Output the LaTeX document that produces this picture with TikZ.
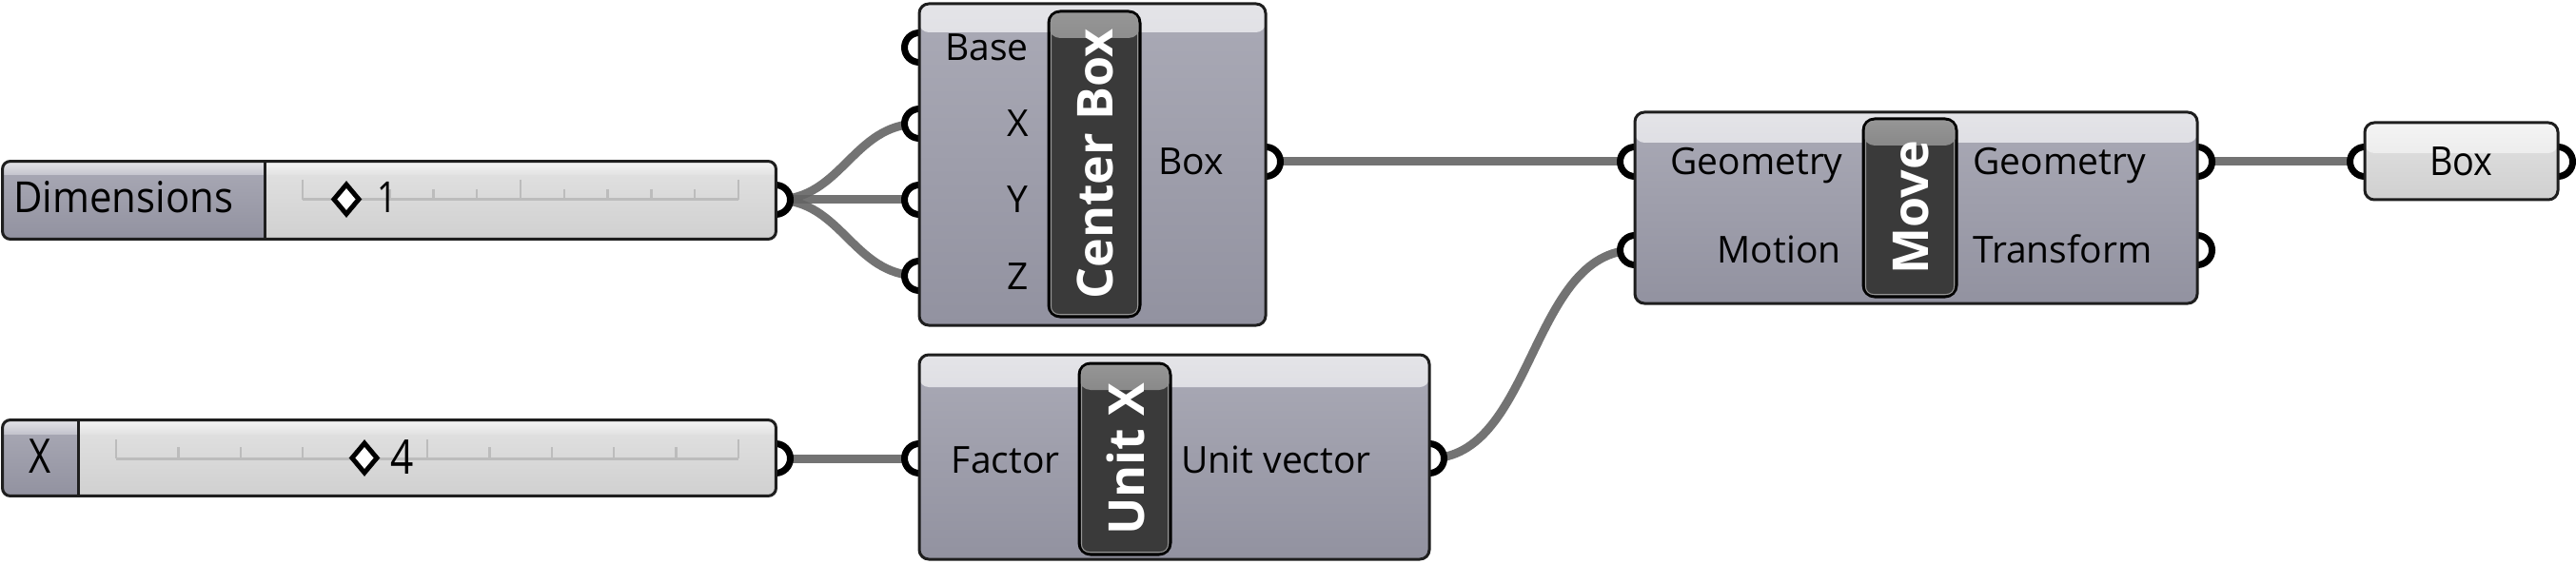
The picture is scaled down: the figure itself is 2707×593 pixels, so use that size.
\documentclass[tikz,border=0pt]{standalone}
\usepackage{fontspec}
\setmainfont{Open Sans}
\usetikzlibrary{calc}
\definecolor{wirec}{RGB}{100,100,100}
\definecolor{bordc}{RGB}{30,30,30}
\definecolor{bodytop}{RGB}{170,170,182}
\definecolor{bodybot}{RGB}{146,146,160}
\definecolor{headtop}{RGB}{228,228,232}
\definecolor{headbot}{RGB}{196,196,205}
\definecolor{namec}{RGB}{58,58,58}
\definecolor{nametop}{RGB}{150,150,150}
\definecolor{valtop}{RGB}{226,226,226}
\definecolor{valbot}{RGB}{208,208,208}
\definecolor{valhead}{RGB}{244,244,244}
\definecolor{trackc}{RGB}{188,188,188}
\tikzset{
  wire/.style={draw=wirec, line width=4.5pt, draw opacity=0.9},
  grip/.style={circle, draw=black, fill=white, line width=3.5pt, minimum size=15.5pt, inner sep=0pt},
  comp/.style={draw=bordc, line width=1.5pt, rounded corners=5pt, inner sep=0pt,
    top color=bodytop, bottom color=bodybot,
    path picture={\shade[top color=headtop, bottom color=headbot]
      (path picture bounding box.north west) rectangle ([yshift=-#1]path picture bounding box.north east);}},
  parambox/.style={draw=bordc, line width=1.5pt, rounded corners=5pt, inner sep=0pt,
    top color=valtop, bottom color=valbot,
    path picture={\shade[top color=valhead, bottom color=valtop]
      (path picture bounding box.north west) rectangle ([yshift=-16pt]path picture bounding box.north east);}},
  namebox/.style={draw=black, line width=1.5pt, rounded corners=6pt, inner sep=0pt, fill=namec,
    path picture={\shade[top color=nametop, bottom color=namec]
      (path picture bounding box.north west) rectangle ([yshift=-14pt]path picture bounding box.north east);}},
  nametext/.style={rotate=90, text=white, inner sep=0pt, font=\bfseries\fontsize{26}{30}\selectfont},
  lab/.style={inner sep=0pt, font=\fontsize{19.5}{23}\selectfont},
  track/.style={draw=trackc, line width=1.5pt},
  tick/.style={draw=trackc, line width=1.25pt},
  knob/.style={draw=black, fill=white, line width=2.5pt, line join=miter},
}
\begin{document}
\begin{tikzpicture}[x=0.5pt, y=-0.5pt]
\useasboundingbox[fill=white] (0,0) rectangle (2707,593);
% grip coordinates
\coordinate (dimOut) at (815,210);
\coordinate (xOut) at (815,482);
\coordinate (cbBase) at (966,50);
\coordinate (cbX) at (966,130);
\coordinate (cbY) at (966,210);
\coordinate (cbZ) at (966,290);
\coordinate (cbBox) at (1330,170);
\coordinate (uxFactor) at (966,482);
\coordinate (uxOut) at (1502,482);
\coordinate (mvGeo) at (1718,170);
\coordinate (mvMotion) at (1718,263);
\coordinate (mvGeoOut) at (2309,170);
\coordinate (mvTrans) at (2309,263);
\coordinate (bxIn) at (2485,170);
\coordinate (bxOut) at (2688,170);
% wires
\draw[wire] (dimOut) .. controls +(70,0) and +(-70,0) .. (cbX);
\draw[wire] (dimOut) -- (cbY);
\draw[wire] (dimOut) .. controls +(70,0) and +(-70,0) .. (cbZ);
\draw[wire] (cbBox) -- (mvGeo);
\draw[wire] (xOut) -- (uxFactor);
\draw[wire] (uxOut) .. controls +(110,0) and +(-110,0) .. (mvMotion);
\draw[wire] (mvGeoOut) -- (bxIn);
% grips
\foreach \g in {dimOut,xOut,cbBase,cbX,cbY,cbZ,cbBox,uxFactor,uxOut,mvGeo,mvMotion,mvGeoOut,mvTrans,bxIn,bxOut}
  \node[grip] (g\g) at (\g) {};
% ---------- Dimensions slider
\node[inner sep=0pt, minimum width=406pt, minimum height=40.5pt] (dim) at (409,210.5) {};
\begin{scope}
\clip[rounded corners=4pt] (dim.north west) rectangle (dim.south east);
\shade[top color=valtop, bottom color=valbot] (278,170) rectangle (dim.south east);
\shade[top color=valhead, bottom color=valtop] (278,170) rectangle (815,184);
\shade[top color=bodytop, bottom color=bodybot] (dim.north west) rectangle (278,251);
\shade[top color=headtop, bottom color=headbot] (dim.north west) rectangle (278,184);
\end{scope}
\draw[draw=bordc, line width=1.5pt, rounded corners=4pt] (dim.north west) rectangle (dim.south east);
\draw[draw=bordc, line width=1.5pt] (278,170) -- (278,251);
\draw[track] (318,210) -- (776,210);
\foreach \i in {0,...,10} {
  \pgfmathsetmacro{\tx}{318+45.8*\i}
  \ifnum\i=0 \draw[tick] (\tx,189) -- (\tx,210);
  \else\ifnum\i=5 \draw[tick] (\tx,189) -- (\tx,210);
  \else\ifnum\i=10 \draw[tick] (\tx,189) -- (\tx,210);
  \else \draw[tick] (\tx,199) -- (\tx,210); \fi\fi\fi
}
\draw[knob] (364,194) -- (377,209.5) -- (364,225) -- (351,209.5) -- cycle;
\node[inner sep=0pt, anchor=base west, font=\fontsize{22.5}{26}\selectfont, xscale=0.93] (dimLab) at (14,224) {Dimensions};
\node[inner sep=0pt, anchor=base west, font=\fontsize{22.5}{26}\selectfont, xscale=0.8] (dimVal) at (396,224) {1};
% ---------- X slider
\node[inner sep=0pt, minimum width=406pt, minimum height=39.5pt] (xs) at (409,481.5) {};
\begin{scope}
\clip[rounded corners=4pt] (xs.north west) rectangle (xs.south east);
\shade[top color=valtop, bottom color=valbot] (82,442) rectangle (xs.south east);
\shade[top color=valhead, bottom color=valtop] (82,442) rectangle (815,456);
\shade[top color=bodytop, bottom color=bodybot] (xs.north west) rectangle (82,521);
\shade[top color=headtop, bottom color=headbot] (xs.north west) rectangle (82,456);
\end{scope}
\draw[draw=bordc, line width=1.5pt, rounded corners=4pt] (xs.north west) rectangle (xs.south east);
\draw[draw=bordc, line width=1.5pt] (82,442) -- (82,521);
\draw[track] (122,482) -- (776,482);
\foreach \i in {0,...,10} {
  \pgfmathsetmacro{\tx}{122+65.4*\i}
  \ifnum\i=0 \draw[tick] (\tx,462) -- (\tx,482);
  \else\ifnum\i=5 \draw[tick] (\tx,462) -- (\tx,482);
  \else\ifnum\i=10 \draw[tick] (\tx,462) -- (\tx,482);
  \else \draw[tick] (\tx,470) -- (\tx,482); \fi\fi\fi
}
\draw[knob] (383,466) -- (396,481.5) -- (383,497) -- (370,481.5) -- cycle;
\node[inner sep=0pt, anchor=base, font=\fontsize{25}{29}\selectfont, xscale=0.8] (xLab) at (42,497) {X};
\node[inner sep=0pt, anchor=base west, font=\fontsize{25}{29}\selectfont, xscale=0.85] (xVal) at (410,498) {4};
% ---------- Center Box
\node[comp=15pt, minimum width=182pt, minimum height=169pt] (cb) at (1148,173) {};
\node[namebox, minimum width=48pt, minimum height=160.5pt] (cbN) at (1150,172.5) {};
\draw[draw=nametop, line width=0.5pt, rounded corners=4pt] ([shift={(4,4)}]cbN.north west) rectangle ([shift={(-4,-4)}]cbN.south east);
\node[nametext] (cbT) at (1151,172.5) {Center Box};
\node[lab, anchor=base east] (tBase) at (1081,64) {Base};
\node[lab, anchor=base east] (tX) at (1081,144) {X};
\node[lab, anchor=base east] (tY) at (1081,224) {Y};
\node[lab, anchor=base east] (tZ) at (1081,304) {Z};
\node[lab, anchor=base west] (tBox) at (1217,184) {Box};
% ---------- Unit X
\node[comp=17pt, minimum width=268pt, minimum height=107.5pt] (ux) at (1234,480.5) {};
\node[namebox, minimum width=48pt, minimum height=100.5pt] (uxN) at (1182,482.5) {};
\draw[draw=nametop, line width=0.5pt, rounded corners=4pt] ([shift={(4,4)}]uxN.north west) rectangle ([shift={(-4,-4)}]uxN.south east);
\node[nametext] (uxT) at (1183,482.5) {Unit X};
\node[lab, anchor=base east] (tFactor) at (1114,497) {Factor};
\node[lab, anchor=base west] (tUnit) at (1241,497) {Unit vector};
% ---------- Move
\node[comp=16pt, minimum width=295.5pt, minimum height=100.5pt] (mv) at (2013.5,218.5) {};
\node[namebox, minimum width=49pt, minimum height=93.5pt] (mvN) at (2007,218.5) {};
\draw[draw=nametop, line width=0.5pt, rounded corners=4pt] ([shift={(4,4)}]mvN.north west) rectangle ([shift={(-4,-4)}]mvN.south east);
\node[nametext] (mvT) at (2008,218.5) {Move};
\node[lab, anchor=base east] (tGeoIn) at (1937,184) {Geometry};
\node[lab, anchor=base east] (tMotion) at (1935,277) {Motion};
\node[lab, anchor=base west] (tGeoOut) at (2073,184) {Geometry};
\node[lab, anchor=base west] (tTrans) at (2073,277) {Transform};
% ---------- Box param
\node[parambox, minimum width=101.5pt, minimum height=40.5pt] (bx) at (2586.5,169.5) {};
\node[lab, anchor=base, font=\fontsize{21}{25}\selectfont, xscale=0.9] (tBx) at (2586.5,185) {Box};
\end{tikzpicture}
\end{document}
